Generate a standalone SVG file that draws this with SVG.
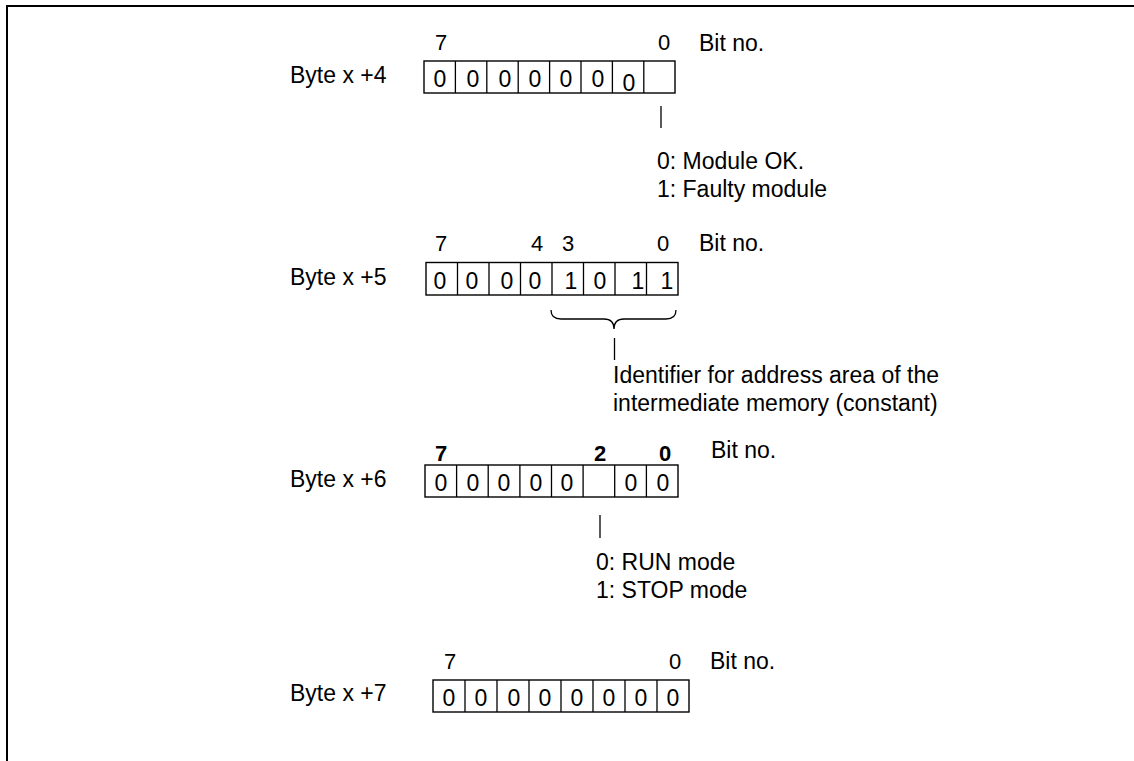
<svg xmlns="http://www.w3.org/2000/svg" width="1134" height="761" viewBox="0 0 1134 761">
<style>
text{font-family:"Liberation Sans",Arial,sans-serif;font-size:23px;fill:#000}
.lbl{font-size:22px}
.d{font-size:25px}
.bold{font-weight:bold}
.c{text-anchor:middle}
.box{fill:none;stroke:#000;stroke-width:1.4}
.ln{fill:none;stroke:#000;stroke-width:1.3}
</style>
<rect width="1134" height="761" fill="#fff"/>
<path d="M7,761 V6 H1134" fill="none" stroke="#000" stroke-width="2"/>

<g id="byte4">
<text x="290" y="83">Byte x +4</text>
<text class="lbl c" x="441" y="50">7</text>
<text class="lbl c" x="664" y="50">0</text>
<text x="699" y="51">Bit no.</text>
<rect class="box" x="424" y="61" width="251" height="32"/>
<path class="ln" d="M455.4,61V93M486.8,61V93M518.2,61V93M549.6,61V93M581,61V93M612.4,61V93M643.8,61V93"/>
<g class="c d">
<text x="440" y="87">0</text><text x="473" y="87">0</text><text x="505" y="87">0</text><text x="535" y="87">0</text><text x="566" y="87">0</text><text x="598" y="87">0</text><text x="629" y="91">0</text>
</g>
</g>

<g id="byte4-note">
<path class="ln" d="M661,106V128"/>
<text x="657" y="169">0: Module OK.</text>
<text x="657" y="197">1: Faulty module</text>
</g>

<g id="byte5">
<text x="290" y="285">Byte x +5</text>
<text class="lbl c" x="441" y="251">7</text>
<text class="lbl c" x="537" y="251">4</text>
<text class="lbl c" x="568" y="251">3</text>
<text class="lbl c" x="663" y="251">0</text>
<text x="699" y="251">Bit no.</text>
<rect class="box" x="426" y="262.5" width="252" height="32.5"/>
<path class="ln" d="M457.5,262.5V295M489,262.5V295M520.5,262.5V295M552,262.5V295M583.5,262.5V295M615,262.5V295M646.5,262.5V295"/>
<g class="c d">
<text x="440" y="289">0</text><text x="472" y="289">0</text><text x="507" y="289">0</text><text x="535" y="289">0</text><text x="571" y="289">1</text><text x="600" y="289">0</text><text x="638" y="289">1</text><text x="667" y="289">1</text>
</g>
</g>

<g id="byte5-note">
<path class="ln" d="M551,310 Q551,319 561,319 H604 Q614,319 614,329 Q614,319 624,319 H666 Q676,319 676,310"/>
<path class="ln" d="M614.5,338V360"/>
<text x="613" y="383">Identifier for address area of the</text>
<text x="613" y="411">intermediate memory (constant)</text>
</g>

<g id="byte6">
<text x="290" y="487">Byte x +6</text>
<text class="lbl c bold" x="441" y="461">7</text>
<text class="lbl c bold" x="600" y="461">2</text>
<text class="lbl c bold" x="665" y="461">0</text>
<text x="711" y="458">Bit no.</text>
<rect class="box" x="425" y="465" width="253" height="32"/>
<path class="ln" d="M456.6,465V497M488.2,465V497M519.9,465V497M551.5,465V497M583.1,465V497M614.7,465V497M646.4,465V497"/>
<g class="c d">
<text x="441" y="491">0</text><text x="473" y="491">0</text><text x="504" y="491">0</text><text x="536" y="491">0</text><text x="567" y="491">0</text><text x="631" y="491">0</text><text x="663" y="491">0</text>
</g>
</g>

<g id="byte6-note">
<path class="ln" d="M600,515V538"/>
<text x="596" y="570">0: RUN mode</text>
<text x="596" y="598">1: STOP mode</text>
</g>

<g id="byte7">
<text x="290" y="701">Byte x +7</text>
<text class="lbl c" x="450" y="669">7</text>
<text class="lbl c" x="675" y="669">0</text>
<text x="710" y="669">Bit no.</text>
<rect class="box" x="433" y="680" width="256" height="32"/>
<path class="ln" d="M465,680V712M497,680V712M529,680V712M561,680V712M593,680V712M625,680V712M657,680V712"/>
<g class="c d">
<text x="449" y="706">0</text><text x="481" y="706">0</text><text x="514" y="706">0</text><text x="545" y="706">0</text><text x="577" y="706">0</text><text x="609" y="706">0</text><text x="641" y="706">0</text><text x="673" y="706">0</text>
</g>
</g>
</svg>
